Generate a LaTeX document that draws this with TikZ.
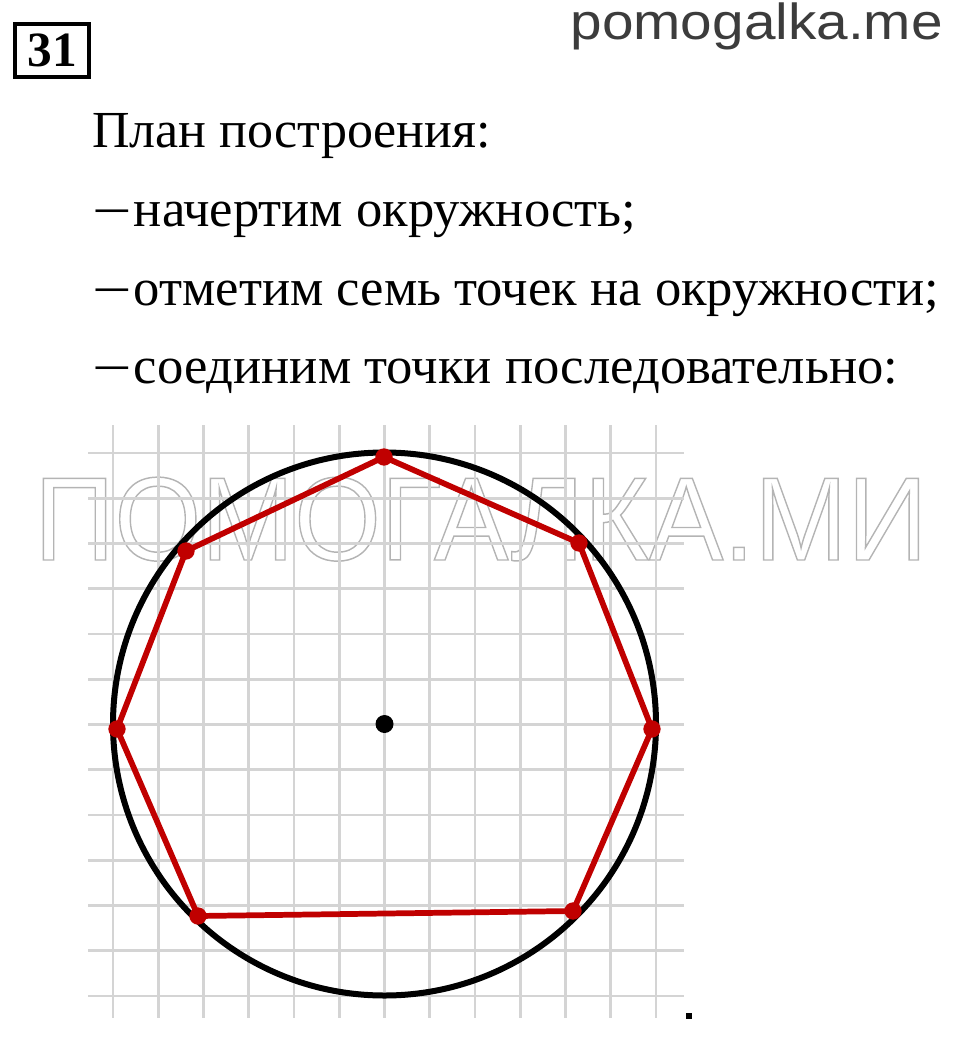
\documentclass[tikz,border=0pt]{standalone}
\usepackage{fontspec}
\setmainfont{Liberation Serif}
\newfontfamily\wmfont{Liberation Sans}
\newfontfamily\widefont[FakeStretch=1.012]{Liberation Serif}
\definecolor{redline}{HTML}{C00000}
\definecolor{gridc}{HTML}{D4D4D4}
\definecolor{wmgray}{HTML}{B4B4B4}
\definecolor{sitegray}{HTML}{3C3C3C}
\newcommand{\outlinetext}[1]{\special{pdf:literal direct 1 Tr 1.1 w}#1\special{pdf:literal direct 0 Tr}}
\newcommand{\plandash}{\raisebox{-1.5pt}{\scalebox{1.35}[1]{−}}\hspace{1.5pt}}
\tikzset{
  gridline/.style={draw=gridc, line width=2.2pt},
  circleline/.style={draw=black, line width=4.5pt},
  redpoly/.style={draw=redline, line width=4.3pt, line join=round},
  rdot/.style={circle, fill=redline, inner sep=0pt, minimum size=13pt},
  cdot/.style={circle, fill=black, inner sep=0pt, minimum size=13.5pt},
  plantext/.style={anchor=base west, inner sep=0pt, font=\fontsize{39}{39}\selectfont},
}
\begin{document}
\begin{tikzpicture}[x=0.75pt,y=-0.75pt]
\useasboundingbox (0,0) rectangle (960,1038);
% watermark
\node[anchor=base west, inner sep=0pt, text=wmgray] (wm) at (34,560)
  {\scalebox{0.94}[1]{\fontsize{89}{89}\wmfont\outlinetext{ПОМОГАЛКА.МИ}}};
% grid
\foreach \i in {0,...,12} {
  \draw[gridline] (113+45.25*\i,425) -- (113+45.25*\i,1018);
  \draw[gridline] (88,453+45.25*\i) -- (684,453+45.25*\i);
}
% circle
\node[cdot] (O) at (384.5,724) {};
\draw[circleline] (O.center) circle[radius=271.5];
% heptagon
\node[rdot] (A) at (384,457) {};
\node[rdot] (B) at (579,543) {};
\node[rdot] (C) at (652,729) {};
\node[rdot] (D) at (573,911) {};
\node[rdot] (E) at (198,916) {};
\node[rdot] (F) at (117,729) {};
\node[rdot] (G) at (186,551) {};
\draw[redpoly] (A.center) -- (B.center) -- (C.center) -- (D.center) -- (E.center) -- (F.center) -- (G.center) -- cycle;
% period
\node[fill=black, inner sep=0pt, minimum size=3.8pt] (per) at (689,1016) {};
% header
\node[draw=black, line width=3pt, minimum width=55.5pt, minimum height=39.75pt, inner sep=0pt,
  font=\bfseries\fontsize{37}{37}\selectfont] (num) at (52,50.5) {31};
\node[anchor=base east, inner sep=0pt, text=sitegray, font=\wmfont\fontsize{38}{38}\selectfont] (site) at (943,40) {\scalebox{1.12}[1]{pomogalka.me}};
% text
\node[plantext] (l1) at (92,148) {План построения:};
\node[plantext] (l2) at (92,226.5) {\plandash\widefont начертим окружность;};
\node[plantext] (l3) at (92,305) {\plandash\widefont отметим семь точек на окружности;};
\node[plantext] (l4) at (92,383.5) {\plandash\widefont соединим точки последовательно:};
\end{tikzpicture}
\end{document}
